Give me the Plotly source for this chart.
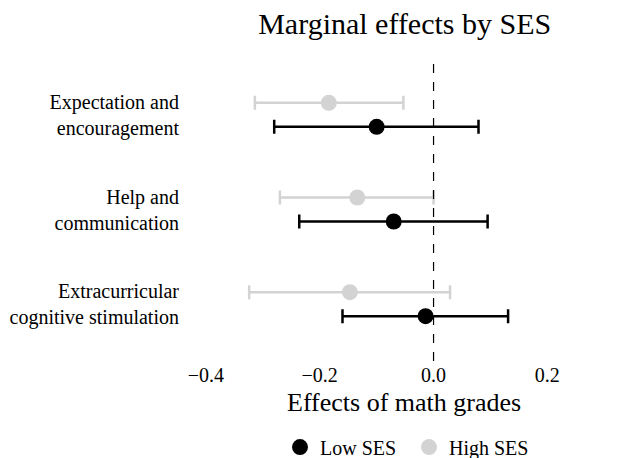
import plotly.graph_objects as go

categories = ["Expectation and<br>encouragement", "Help and<br>communication", "Extracurricular<br>cognitive stimulation"]
groups = ["Low SES", "High SES"]
low_est = [-0.100, -0.070, -0.014]
low_lo = [-0.280, -0.236, -0.160]
low_hi = [0.079, 0.095, 0.131]
high_est = [-0.184, -0.134, -0.147]
high_lo = [-0.314, -0.270, -0.324]
high_hi = [-0.053, 0.000, 0.029]
x_ticks = [-0.4, -0.2, 0.0, 0.2]
x_ticktext = ["\u22120.4", "\u22120.2", "0.0", "0.2"]

colors = {"Low SES": "black", "High SES": "#d3d3d3"}
dodge = 0.127
ncat = len(categories)
cat_pos = [ncat - i for i in range(ncat)]

fig = go.Figure()
series = {
    "Low SES": (low_est, low_lo, low_hi, -dodge),
    "High SES": (high_est, high_lo, high_hi, dodge),
}
for g in groups:
    est, lo, hi, off = series[g]
    fig.add_trace(go.Scatter(
        x=est,
        y=[p + off for p in cat_pos],
        mode="markers",
        name=g,
        marker=dict(color=colors[g], size=16, line=dict(width=0)),
        error_x=dict(
            type="data", symmetric=False,
            array=[h - e for h, e in zip(hi, est)],
            arrayminus=[e - l for e, l in zip(est, lo)],
            color=colors[g], thickness=2.5, width=7,
        ),
    ))

fig.add_shape(type="line", xref="x", yref="paper", x0=0, x1=0, y0=0, y1=1,
              line=dict(color="black", width=1.2, dash="dash"))

fig.add_annotation(text="Effects of math grades", xref="paper", yref="paper",
                   x=0.5765, y=0, yshift=-41, xanchor="center", yanchor="middle",
                   showarrow=False, font=dict(size=26))

fig.update_layout(
    width=616, height=450,
    margin=dict(l=178, r=59, t=50, b=97, autoexpand=False),
    plot_bgcolor="white", paper_bgcolor="white",
    font=dict(family="Liberation Serif", size=20, color="black"),
    title=dict(text="Marginal effects by SES", x=0.644, xanchor="center", y=0.966, yanchor="middle",
               font=dict(size=30)),
    xaxis=dict(range=[-0.435, 0.231], tickvals=x_ticks, ticktext=x_ticktext,
               showgrid=False, zeroline=False, showline=False, ticks="", automargin=False,
               tickfont=dict(size=20)),
    yaxis=dict(range=[0.4, 3.6], tickvals=cat_pos, ticktext=categories,
               showgrid=False, zeroline=False, showline=False, ticks="", automargin=False,
               tickfont=dict(size=20), ticklabelstandoff=6),
    legend=dict(orientation="h", x=0.248, xanchor="left", y=-0.284, yanchor="middle",
                font=dict(size=20), traceorder="normal",
                entrywidth=84, entrywidthmode="pixels"),
    showlegend=True,
)

fig.write_html("out.html")
